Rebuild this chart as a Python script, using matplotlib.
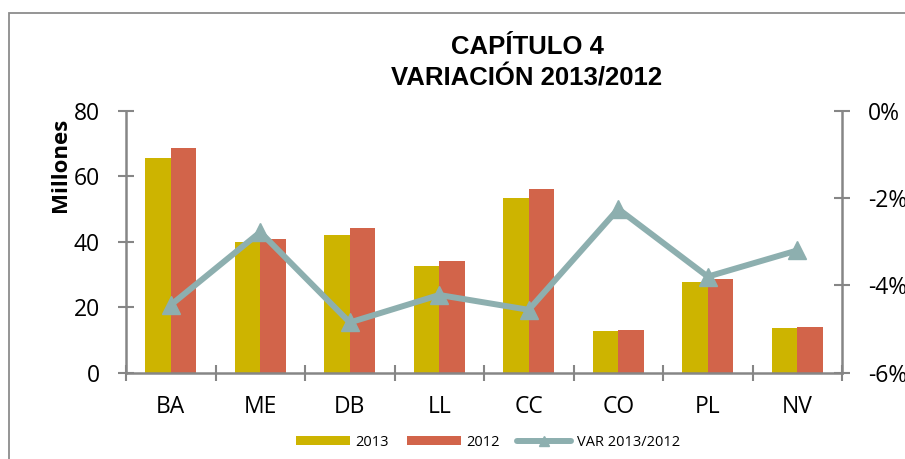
import matplotlib
matplotlib.use("Agg")
import matplotlib.pyplot as plt
from matplotlib.patches import Rectangle
from matplotlib.ticker import FuncFormatter, FixedLocator
import numpy as np

# --- datos ---
categorias = ["BA", "ME", "DB", "LL", "CC", "CO", "PL", "NV"]
valores_2013 = [65.6, 39.8, 42.0, 32.7, 53.4, 12.6, 27.6, 13.5]
valores_2012 = [68.6, 40.9, 44.2, 34.1, 56.0, 13.0, 28.7, 14.0]
var_13_12 = [-4.45, -2.78, -4.85, -4.22, -4.56, -2.25, -3.80, -3.20]  # en %

# --- estilo ---
COL_2013 = '#CDB400'
COL_2012 = '#D2644A'
COL_VAR = '#8DAFAF'
COL_EJE = '#868686'
FUENTE = 'Open Sans'

W, H = 905, 459
fig = plt.figure(figsize=(W / 100, H / 100), dpi=100)
fig.patch.set_facecolor('white')

ax = fig.add_axes([126 / W, 86.3 / H, (842 - 126) / W, (372.7 - 110.7) / H])
x = np.arange(len(categorias))
ancho = 0.283

ax.bar(x - ancho / 2, valores_2013, ancho, color=COL_2013, label='2013', zorder=2)
ax.bar(x + ancho / 2, valores_2012, ancho, color=COL_2012, label='2012', zorder=2)

ax.set_xlim(-0.5, len(categorias) - 0.5)
ax.set_ylim(0, 80)
ax.set_yticks([0, 20, 40, 60, 80])

# ticks del eje x en los límites de categoría
ax.set_xticks(x)
ax.set_xticklabels(categorias, fontsize=16.5, family=FUENTE)
ax.xaxis.set_minor_locator(FixedLocator(np.arange(-0.5, len(categorias), 1.0)))
ax.tick_params(axis='x', which='major', length=0, pad=16)
ax.tick_params(axis='x', which='minor', length=11.5, width=1.5, direction='inout', color=COL_EJE)
ax.tick_params(axis='y', length=11.5, width=1.5, direction='inout', color=COL_EJE, pad=13,
               labelsize=16.5)
for t in ax.get_yticklabels():
    t.set_family(FUENTE)

for s in ['top', 'right']:
    ax.spines[s].set_visible(False)
for s in ['left', 'bottom']:
    ax.spines[s].set_color(COL_EJE)
    ax.spines[s].set_linewidth(1.8)

# etiqueta del eje y, arriba como en Excel
fig.text(60 / W, 1 - 165 / H, 'Millones', rotation=90, ha='center', va='center',
         fontsize=16, fontweight='bold', family=FUENTE)

# eje secundario: variación
ax2 = ax.twinx()
ax2.plot(x, np.array(var_13_12) / 100, color=COL_VAR, lw=4.3, marker='^', ms=13,
         label='VAR 2013/2012', zorder=3, solid_capstyle='round')
ax2.set_ylim(-0.06, 0)
ax2.set_yticks([-0.06, -0.04, -0.02, 0])
ax2.yaxis.set_major_formatter(FuncFormatter(lambda v, p: f"{v * 100:.0f}%"))
ax2.tick_params(axis='y', length=11.5, width=1.5, direction='inout', color=COL_EJE, pad=13,
                labelsize=16.5)
for t in ax2.get_yticklabels():
    t.set_family(FUENTE)
for s in ['top', 'left', 'bottom']:
    ax2.spines[s].set_visible(False)
ax2.spines['right'].set_color(COL_EJE)
ax2.spines['right'].set_linewidth(1.8)

# título
fig.text(527 / W, 1 - 47 / H, "CAPÍTULO 4", ha='center', va='center',
         fontsize=18.5, fontweight='bold', family='Liberation Sans')
fig.text(527 / W, 1 - 78 / H, "VARIACIÓN 2013/2012", ha='center', va='center',
         fontsize=18.5, fontweight='bold', family='Liberation Sans')

# leyenda
h1, l1 = ax.get_legend_handles_labels()
h2, l2 = ax2.get_legend_handles_labels()
fig.legend(h1 + h2, l1 + l2, loc='center', bbox_to_anchor=(488 / W, 1 - 442 / H),
           ncol=3, frameon=False, prop={'family': FUENTE, 'size': 10.5},
           handlelength=3.7, handleheight=0.6, columnspacing=1.2, handletextpad=0.4,
           markerscale=0.6)

# marco del gráfico
fig.add_artist(Rectangle((9 / W, -0.1), 1.2, 1.1 - 13 / H, transform=fig.transFigure,
                         fill=False, edgecolor='#8C8C8C', lw=1.3))

fig.savefig('out.png', dpi=100)
